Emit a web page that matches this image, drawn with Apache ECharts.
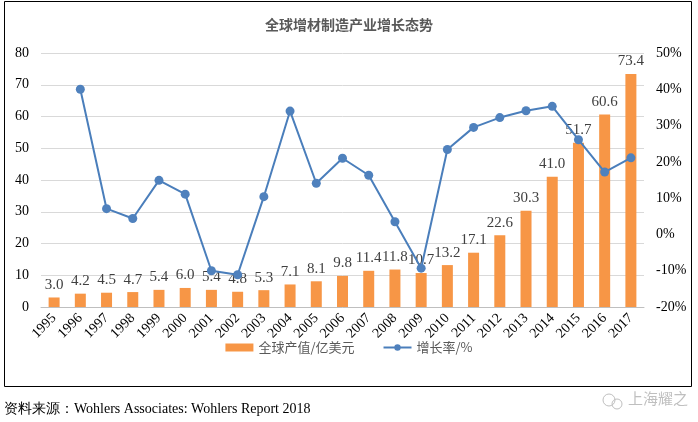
<!DOCTYPE html>
<html><head><meta charset="utf-8">
<script src="https://cdn.jsdelivr.net/npm/echarts@6/dist/echarts.min.js"></script>
<style>html,body{margin:0;padding:0;background:#fff;}#c{width:698px;height:422px;}</style>
</head><body><div id="c"></div>
<script>
const years = ['1995','1996','1997','1998','1999','2000','2001','2002','2003','2004','2005','2006','2007','2008','2009','2010','2011','2012','2013','2014','2015','2016','2017'];
const outputValue = [3.0,4.2,4.5,4.7,5.4,6.0,5.4,4.8,5.3,7.1,8.1,9.8,11.4,11.8,10.7,13.2,17.1,22.6,30.3,41.0,51.7,60.6,73.4];
const growthRate = [null,40.0,7.1,4.4,14.9,11.1,-10.0,-11.1,10.4,34.0,14.1,21.0,16.3,3.5,-9.3,23.4,29.5,32.2,34.1,35.3,26.1,17.2,21.1];
const titleText = '全球增材制造产业增长态势';
const barName = '全球产值/亿美元';
const lineName = '增长率/%';
const sourceText = '资料来源：Wohlers Associates: Wohlers Report 2018';

const serif = '"Liberation Serif","DejaVu Serif",serif';
const cjk = '"Noto Sans CJK SC",sans-serif';
const chart = echarts.init(document.getElementById('c'));
chart.setOption({
  animation: false,
  backgroundColor: '#fff',
  title: {text: titleText, left: 'center', top: 13,
    textStyle: {fontFamily: cjk, fontSize: 14, fontWeight: 'bold', color: '#595959'}},
  grid: {left: 41, right: 54, top: 53, bottom: 115, containLabel: false},
  legend: {
    bottom: 63, left: 'center', itemGap: 28,
    textStyle: {fontFamily: cjk, fontSize: 13, color: '#595959'},
    data: [
      {name: barName, icon: 'rect'},
      {name: lineName}
    ],
    itemWidth: 28, itemHeight: 8
  },
  xAxis: {
    type: 'category', data: years,
    axisLine: {lineStyle: {color: '#BFBFBF'}},
    axisTick: {show: false},
    axisLabel: {rotate: 45, interval: 0, color: '#000', fontFamily: serif, fontSize: 14, margin: 9}
  },
  yAxis: [
    {type: 'value', min: 0, max: 80, interval: 10,
      axisLine: {show: false}, axisTick: {show: false},
      splitLine: {lineStyle: {color: '#D9D9D9'}},
      axisLabel: {color: '#000', fontFamily: serif, fontSize: 14, margin: 12}},
    {type: 'value', min: -20, max: 50, interval: 10,
      axisLine: {show: false}, axisTick: {show: false},
      splitLine: {show: false},
      axisLabel: {formatter: '{value}%', color: '#000', fontFamily: serif, fontSize: 14, margin: 12}}
  ],
  series: [
    {name: barName, type: 'bar', data: outputValue, barWidth: 11, yAxisIndex: 0,
      itemStyle: {color: '#F79646'},
      label: {show: true, position: 'top', distance: 5, formatter: p => p.value.toFixed(1),
        fontFamily: serif, fontSize: 15, color: '#404040'}},
    {name: lineName, type: 'line', data: growthRate, yAxisIndex: 1,
      symbol: 'circle', symbolSize: 9, connectNulls: false,
      lineStyle: {color: '#4A7EBB', width: 2},
      itemStyle: {color: '#4F81BD'}}
  ],
  graphic: [
    {type: 'rect', shape: {x: 4.5, y: 1.5, width: 687, height: 385}, style: {fill: 'none', stroke: '#000', lineWidth: 1}, z: -1},
    {type: 'text', left: 4, top: 402, style: {text: sourceText, font: '14px ' + serif, fill: '#000'}},
    {type: 'text', left: 628, top: 391, style: {text: '上海耀之', font: '15px ' + cjk, fill: '#BFBFBF'}},
    {type: 'circle', shape: {cx: 609, cy: 400, r: 6}, style: {fill: 'none', stroke: '#BFBFBF', lineWidth: 1}},
    {type: 'circle', shape: {cx: 617, cy: 404, r: 5}, style: {fill: 'none', stroke: '#BFBFBF', lineWidth: 1}}
  ]
});
</script></body></html>
